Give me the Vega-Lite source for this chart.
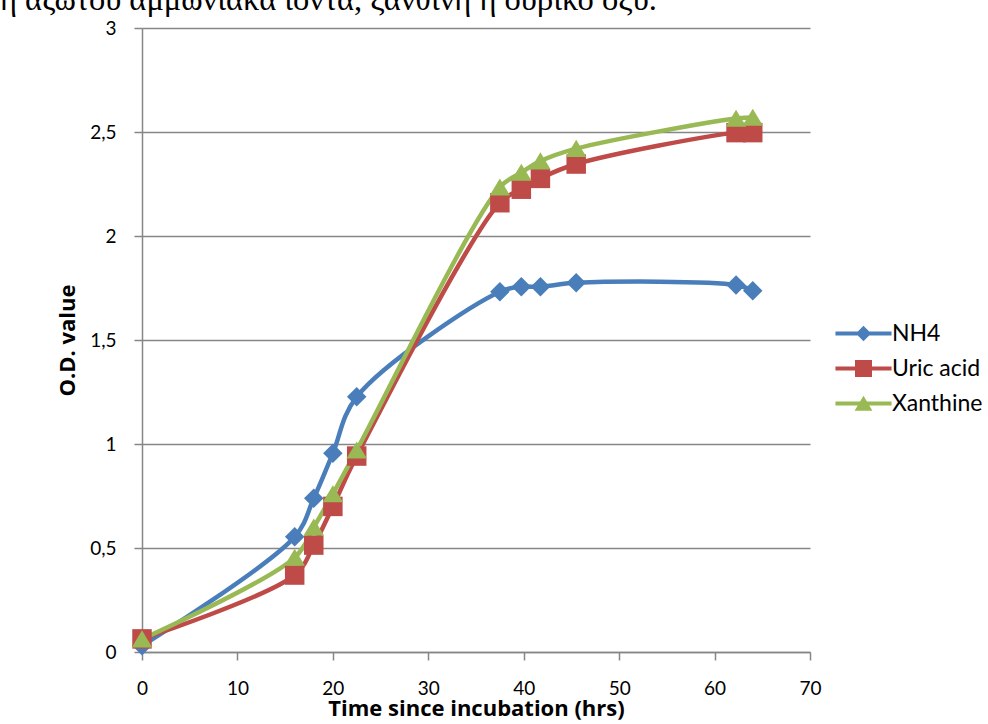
{
  "$schema": "https://vega.github.io/schema/vega-lite/v6.json",
  "width": 668,
  "height": 624,
  "autosize": "none",
  "padding": {"left": 142, "top": 28, "right": 178, "bottom": 72},
  "background": "white",
  "title": {
    "text": "ή αζώτου αμμωνιακά ιόντα, ξανθίνη ή ουρικό οξύ.",
    "anchor": "start",
    "frame": "group",
    "font": "Liberation Serif",
    "fontSize": 32.5,
    "fontWeight": "normal",
    "color": "#000000",
    "offset": 3,
    "dx": -142
  },
  "data": {
    "values": [
      {"series": "NH4", "t": 0, "od": 0.03},
      {"series": "NH4", "t": 16, "od": 0.554},
      {"series": "NH4", "t": 18, "od": 0.739},
      {"series": "NH4", "t": 20, "od": 0.955},
      {"series": "NH4", "t": 22.5, "od": 1.227},
      {"series": "NH4", "t": 37.5, "od": 1.732},
      {"series": "NH4", "t": 39.75, "od": 1.756},
      {"series": "NH4", "t": 41.75, "od": 1.756},
      {"series": "NH4", "t": 45.5, "od": 1.775},
      {"series": "NH4", "t": 62.25, "od": 1.764},
      {"series": "NH4", "t": 64, "od": 1.737},
      {"series": "Uric acid", "t": 0, "od": 0.063},
      {"series": "Uric acid", "t": 16, "od": 0.37},
      {"series": "Uric acid", "t": 18, "od": 0.514},
      {"series": "Uric acid", "t": 20, "od": 0.7},
      {"series": "Uric acid", "t": 22.5, "od": 0.942},
      {"series": "Uric acid", "t": 37.5, "od": 2.16},
      {"series": "Uric acid", "t": 39.75, "od": 2.225},
      {"series": "Uric acid", "t": 41.75, "od": 2.277},
      {"series": "Uric acid", "t": 45.5, "od": 2.346},
      {"series": "Uric acid", "t": 62.25, "od": 2.497},
      {"series": "Uric acid", "t": 64, "od": 2.497},
      {"series": "Xanthine", "t": 0, "od": 0.062},
      {"series": "Xanthine", "t": 16, "od": 0.454},
      {"series": "Xanthine", "t": 18, "od": 0.6},
      {"series": "Xanthine", "t": 20, "od": 0.76},
      {"series": "Xanthine", "t": 22.5, "od": 0.97},
      {"series": "Xanthine", "t": 37.5, "od": 2.234},
      {"series": "Xanthine", "t": 39.75, "od": 2.305},
      {"series": "Xanthine", "t": 41.75, "od": 2.36},
      {"series": "Xanthine", "t": 45.5, "od": 2.42},
      {"series": "Xanthine", "t": 62.25, "od": 2.565},
      {"series": "Xanthine", "t": 64, "od": 2.57}
    ]
  },
  "encoding": {
    "x": {
      "field": "t",
      "type": "quantitative",
      "title": "Time since incubation (hrs)",
      "scale": {"domain": [0, 70], "nice": false, "zero": false},
      "axis": {
        "values": [0, 10, 20, 30, 40, 50, 60, 70],
        "grid": false,
        "labelFlush": false,
        "labelPadding": 19,
        "titlePadding": 0
      }
    },
    "y": {
      "field": "od",
      "type": "quantitative",
      "title": "O.D. value",
      "scale": {"domain": [0, 3], "nice": false},
      "axis": {
        "values": [0, 0.5, 1, 1.5, 2, 2.5, 3],
        "format": "~g",
        "labelExpr": "replace(datum.label, '.', ',')",
        "grid": true,
        "labelFlush": false,
        "labelPadding": 18,
        "titlePadding": 10
      }
    },
    "color": {
      "field": "series",
      "type": "nominal",
      "scale": {
        "domain": ["NH4", "Uric acid", "Xanthine"],
        "range": ["#4A7EBB", "#BE4B48", "#98B954"]
      },
      "legend": {
        "orient": "none",
        "legendX": 710,
        "legendY": 294,
        "title": null,
        "labelFont": "Lato",
        "labelFontSize": 23,
        "labelColor": "#000000",
        "labelOffset": 17,
        "symbolSize": 289,
        "rowPadding": 11,
        "padding": 0,
        "encode": {
          "symbols": {
            "update": {
              "shape": {
                "signal": "datum.value === 'NH4' ? 'M0,-0.9L0.9,0L0,0.9L-0.9,0Z M-3.3,-0.24H3.3V0.24H-3.3Z' : datum.value === 'Uric acid' ? 'M-1,-1H1V1H-1Z M-3.3,-0.24H3.3V0.24H-3.3Z' : 'M0,-0.9L1.05,0.85H-1.05Z M-3.3,-0.24H3.3V0.24H-3.3Z'"
              },
              "fill": {"scale": "color", "field": "value"},
              "fillOpacity": {"value": 1},
              "opacity": {"value": 1},
              "strokeWidth": {"value": 0}
            }
          }
        }
      }
    }
  },
  "layer": [
    {
      "mark": {
        "type": "line",
        "interpolate": "catmull-rom",
        "strokeWidth": 4.5,
        "strokeCap": "round",
        "strokeJoin": "round"
      }
    },
    {
      "transform": [{"filter": "datum.series === 'NH4'"}],
      "mark": {
        "type": "point",
        "shape": "M0,-1L1,0L0,1L-1,0Z",
        "filled": true,
        "size": 380,
        "opacity": 1,
        "strokeWidth": 0
      }
    },
    {
      "transform": [{"filter": "datum.series === 'Uric acid'"}],
      "mark": {
        "type": "point",
        "shape": "M-1,-1H1V1H-1Z",
        "filled": true,
        "size": 380,
        "opacity": 1,
        "strokeWidth": 0
      }
    },
    {
      "transform": [{"filter": "datum.series === 'Xanthine'"}],
      "mark": {
        "type": "point",
        "shape": "M0,-0.9L1.05,0.85H-1.05Z",
        "filled": true,
        "size": 380,
        "opacity": 1,
        "strokeWidth": 0
      }
    }
  ],
  "config": {
    "view": {"stroke": null},
    "axis": {
      "domainColor": "#868686",
      "domainWidth": 1.5,
      "tickColor": "#868686",
      "tickWidth": 1.5,
      "tickSize": 8,
      "gridColor": "#868686",
      "gridWidth": 1.5,
      "labelFont": "Lato",
      "labelFontSize": 19,
      "labelColor": "#000000",
      "titleFont": "Open Sans",
      "titleFontSize": 22,
      "titleFontWeight": "bold",
      "titleColor": "#000000"
    }
  }
}
